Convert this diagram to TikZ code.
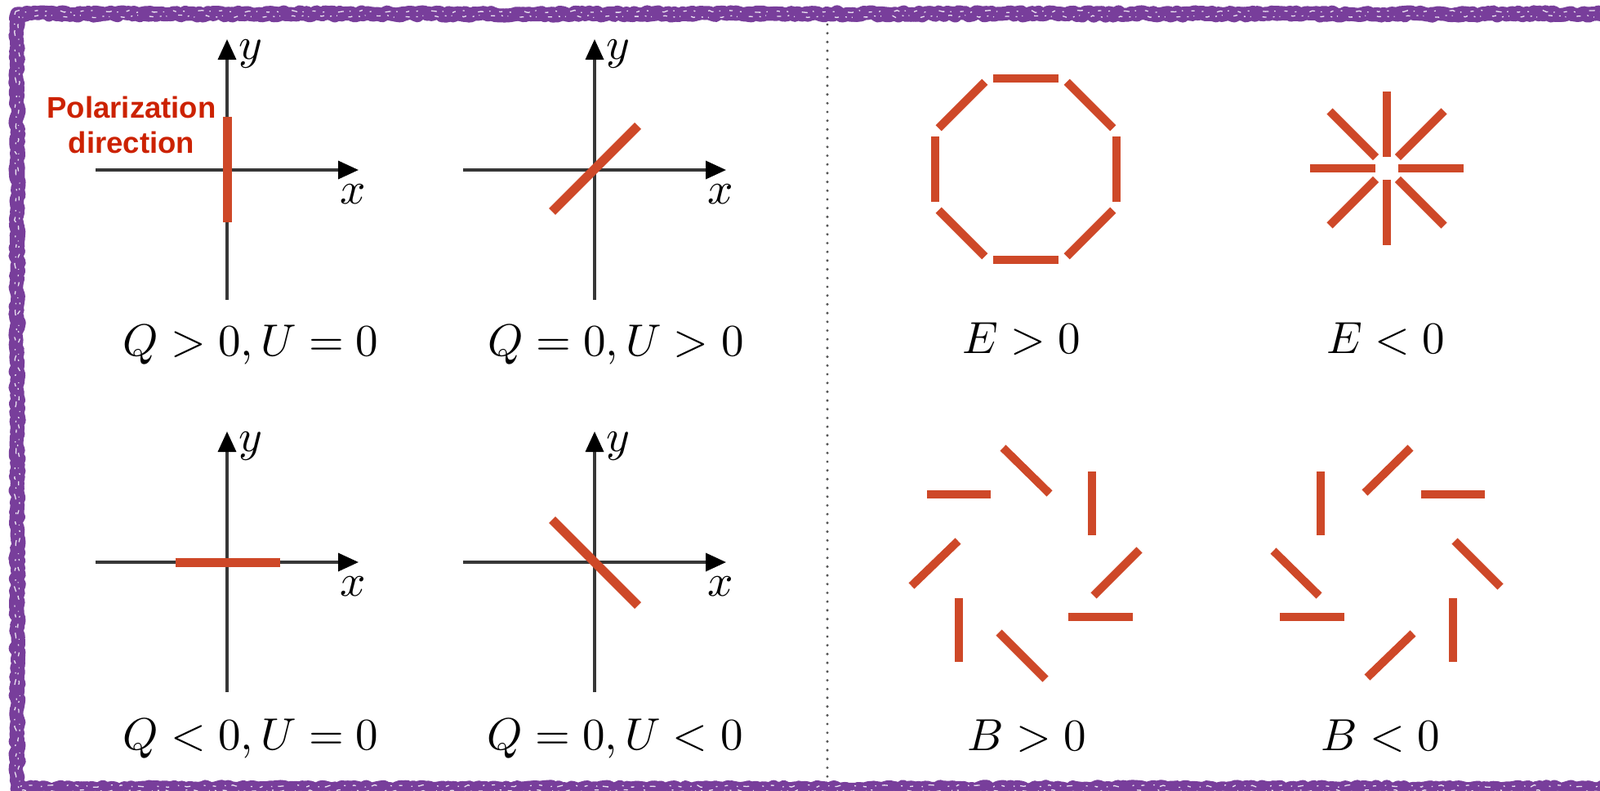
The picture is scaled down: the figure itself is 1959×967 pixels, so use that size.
\documentclass[tikz,border=0pt]{standalone}
\usepackage{fontspec}
\newfontfamily\labelfont{Liberation Sans}
\usetikzlibrary{arrows.meta,decorations.pathmorphing,calc}
\definecolor{bordpurple}{RGB}{120,62,155}
\definecolor{polred}{RGB}{206,72,40}
\definecolor{txtred}{RGB}{204,34,0}
\definecolor{axisgray}{RGB}{55,55,55}
\definecolor{dotgray}{RGB}{85,85,85}
\begin{document}
\begin{tikzpicture}[x=1pt,y=-1pt,
  axisline/.style={line width=3.5pt, draw=axisgray, -{Triangle[length=25pt,width=22pt,color=black]}},
  polline/.style={line width=11pt, draw=polred},
  seg/.style={line width=10pt, draw=polred},
  mlab/.style={scale=5.5, inner sep=0pt, anchor=base},
  axlab/.style={scale=5.5, inner sep=0pt},
  roughborder/.style={draw=bordpurple, line join=round, decorate,
     decoration={random steps, segment length=4pt, amplitude=2.2pt}},
  scratch/.style={draw=white, line width=1.3pt, opacity=0.85, decorate,
     decoration={random steps, segment length=5pt, amplitude=1.5pt},
     dash pattern=on 4pt off 11pt on 1.5pt off 7pt on 7pt off 17pt on 2pt off 9pt}]
\useasboundingbox (0,0) rectangle (1959,967);
\fill[white] (0,0) rectangle (1959,967);

% border (right side lies just beyond the picture)
\begin{scope}
\clip (0,0) rectangle (1959,967);
\draw[roughborder, line width=17pt] (21,17) rectangle (1978,965);
\draw[roughborder, line width=14pt, decoration={random steps, segment length=7pt, amplitude=3pt}] (21,17) rectangle (1978,965);
\draw[scratch] (19,14) rectangle (1978,962);
\draw[scratch, dash pattern=on 2pt off 8pt on 5pt off 14pt on 1pt off 6pt] (23,20) rectangle (1978,968);
\end{scope}

% divider
\coordinate (dtop) at (1013,30);
\coordinate (dbot) at (1013,956);
\draw[draw=dotgray, line width=3.4pt, line cap=round, dash pattern=on 0pt off 10.7pt] (dtop) -- (dbot);

% Q/U panels: axes
\foreach \n/\cx/\cy in {1/278/208, 2/728/208, 3/278/688, 4/728/688}{
  \coordinate (xl\n) at (\cx-161,\cy);
  \coordinate (xr\n) at (\cx+161,\cy);
  \coordinate (yb\n) at (\cx,\cy+159);
  \coordinate (yt\n) at (\cx,\cy-160);
  \draw[axisline] (xl\n) -- (xr\n);
  \draw[axisline] (yb\n) -- (yt\n);
  \node[axlab] (xlab\n) at (\cx+154,\cy+30) {$x$};
  \node[axlab] (ylab\n) at (\cx+29,\cy-142) {$y$};
}

% polarization directions
\coordinate (p1a) at (278,143); \coordinate (p1b) at (278,272);
\draw[polline] (p1a) -- (p1b);
\coordinate (p2a) at (676,259); \coordinate (p2b) at (781,154);
\draw[polline] (p2a) -- (p2b);
\coordinate (p3a) at (215,688); \coordinate (p3b) at (343,688);
\draw[polline] (p3a) -- (p3b);
\coordinate (p4a) at (676,636); \coordinate (p4b) at (781,741);
\draw[polline] (p4a) -- (p4b);

\node[font=\labelfont\bfseries, text=txtred, align=center, scale=3.65, inner sep=0pt] (poltext) at (161,153) {Polarization\\direction};

% labels
\node[mlab] (lab1) at (307,435) {$Q>0,U=0$};
\node[mlab] (lab2) at (754,435) {$Q=0,U>0$};
\node[mlab] (lab3) at (307,917) {$Q<0,U=0$};
\node[mlab] (lab4) at (753,917) {$Q=0,U<0$};
\node[mlab] (lab5) at (1251,432) {$E>0$};
\node[mlab] (lab6) at (1697,432) {$E<0$};
\node[mlab] (lab7) at (1257,918) {$B>0$};
\node[mlab] (lab8) at (1690,918) {$B<0$};

% E>0 ring
\coordinate (oc) at (1256,207);
\foreach \a in {0,45,...,315}{
  \draw[seg] ($(oc)+(\a:111)+(\a+90:40)$) -- ($(oc)+(\a:111)+(\a-90:40)$);
}

% E<0 star
\coordinate (sc) at (1698,206);
\foreach \a in {0,90,180,270}{
  \draw[seg] ($(sc)+(\a:14)$) -- ($(sc)+(\a:94)$);
}
\foreach \a in {45,135,225,315}{
  \draw[seg] ($(sc)+(\a:19)$) -- ($(sc)+(\a:99)$);
}

% B>0 swirl
\draw[seg] (1135,605) -- (1213,605);
\draw[seg] (1228,548) -- (1285,604);
\draw[seg] (1337,577) -- (1337,655);
\draw[seg] (1339,729) -- (1395,673);
\draw[seg] (1308,755) -- (1387,755);
\draw[seg] (1223,774) -- (1280,831);
\draw[seg] (1174,732) -- (1174,810);
\draw[seg] (1116,717) -- (1173,662);

% B<0 swirl
\draw[seg] (1617,577) -- (1617,655);
\draw[seg] (1671,603) -- (1727,548);
\draw[seg] (1740,605) -- (1818,605);
\draw[seg] (1781,662) -- (1837,718);
\draw[seg] (1779,732) -- (1779,810);
\draw[seg] (1674,829) -- (1730,775);
\draw[seg] (1567,755) -- (1646,755);
\draw[seg] (1559,674) -- (1615,729);
\end{tikzpicture}
\end{document}
